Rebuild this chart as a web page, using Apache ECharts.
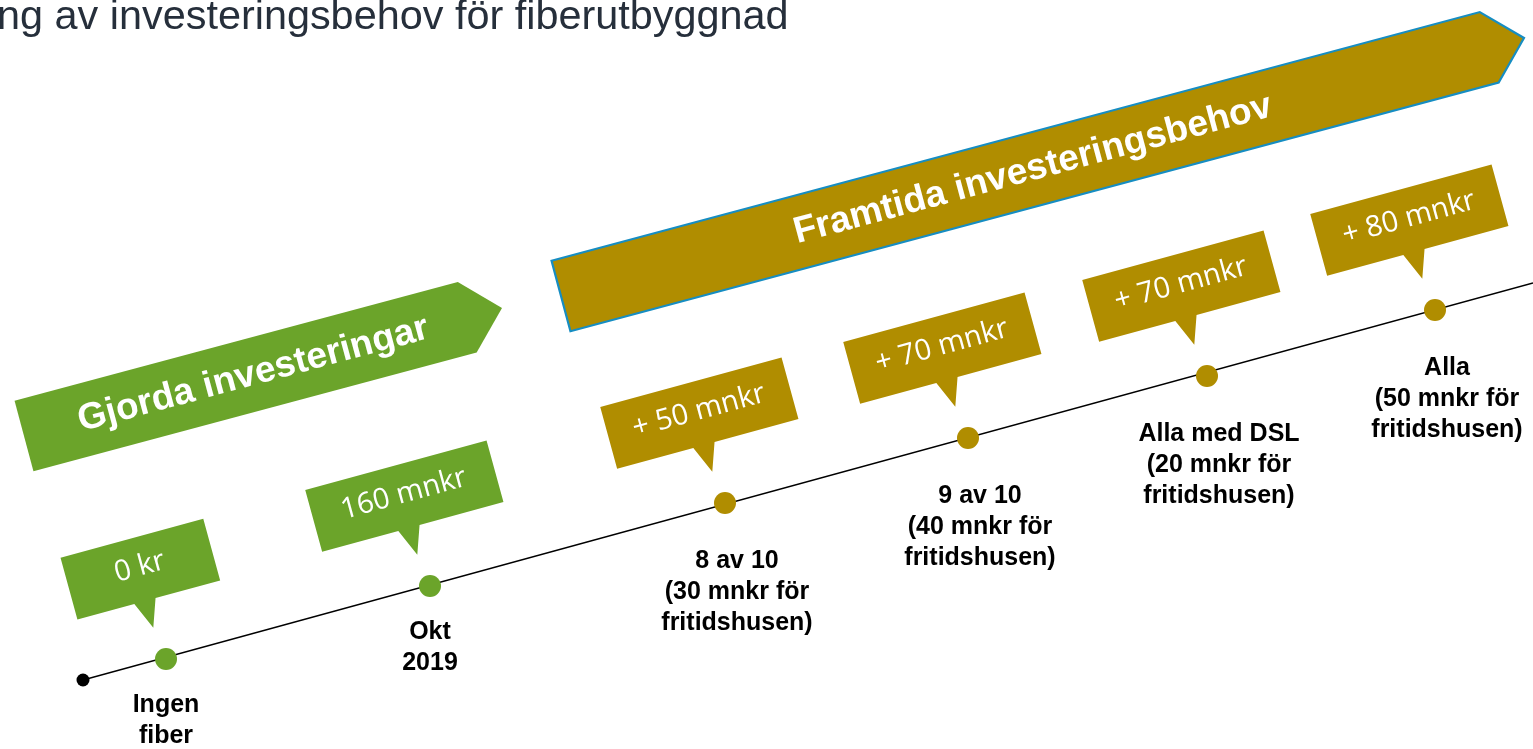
<!DOCTYPE html>
<html lang="sv">
<head>
    <meta charset="UTF-8">
    <title>Investeringsbehov för fiberutbyggnad</title>
    <style>
        html, body { margin: 0; padding: 0; background: #fff; overflow: hidden; }
        #main { width: 1533px; height: 749px; }
    </style>
</head>
<body>
<div id="main"></div>
<script src="https://cdn.jsdelivr.net/npm/echarts@6/dist/echarts.min.js"></script>
<script>
    // ---- data ----
    // milestones on the timeline (position along the drawing, axis units)
    const milestoneLabels = [
        'Ingen\nfiber',
        'Okt\n2019',
        '8 av 10\n(30 mnkr för\nfritidshusen)',
        '9 av 10\n(40 mnkr för\nfritidshusen)',
        'Alla med DSL\n(20 mnkr för\nfritidshusen)',
        'Alla\n(50 mnkr för\nfritidshusen)'
    ];
    const milestoneX = [166, 430, 725, 968, 1207, 1435];
    const milestoneY = [659, 586, 503, 438, 376, 310];
    const investments = ['0 kr', '160 mnkr', '+ 50 mnkr', '+ 70 mnkr', '+ 70 mnkr', '+ 80 mnkr'];
    const milestonePhase = [0, 0, 1, 1, 1, 1];

    // phase banners: from left end (mid height) to arrow tip
    const phaseNames = ['Gjorda investeringar', 'Framtida investeringsbehov'];
    const phaseStartX = [24, 561];
    const phaseStartY = [436, 296];
    const phaseEndX = [502, 1524];
    const phaseEndY = [308, 38];

    // the timeline itself
    const timelineX = [83, 1533];
    const timelineY = [680, 283];

    const titleText = 'ng av investeringsbehov för fiberutbyggnad';

    // ---- styles ----
    const phaseColors = ['#6BA42A', '#B08D00'];
    const phaseBorder = [null, '#168DC2'];
    const labelShift = [[0, 20], [12, 32]];

    const chart = echarts.init(document.getElementById('main'));

    // direction of the timeline in screen space
    function timelineDir(api) {
        const a = api.coord([timelineX[0], timelineY[0]]);
        const b = api.coord([timelineX[1], timelineY[1]]);
        const len = Math.hypot(b[0] - a[0], b[1] - a[1]);
        return [(b[0] - a[0]) / len, (b[1] - a[1]) / len];
    }

    function renderBanner(params, api) {
        const p0 = api.coord([api.value(0), api.value(1)]);
        const p1 = api.coord([api.value(2), api.value(3)]);
        const dx = p1[0] - p0[0], dy = p1[1] - p0[1];
        const len = Math.hypot(dx, dy);
        const u = [dx / len, dy / len];
        const v = [-u[1], u[0]];
        const h = 36.5, tip = 36;
        const pt = (a, b) => [p0[0] + a * u[0] + b * v[0], p0[1] + a * u[1] + b * v[1]];
        const i = params.dataIndex;
        const c = pt(len / 2 - 10, 0);
        return {
            type: 'group',
            children: [{
                type: 'polygon',
                shape: {points: [pt(0, -h), pt(len - tip, -h), pt(len, 0), pt(len - tip, h), pt(0, h)]},
                style: {
                    fill: phaseColors[i],
                    stroke: phaseBorder[i] || phaseColors[i],
                    lineWidth: phaseBorder[i] ? 2.2 : 0
                }
            }, {
                type: 'text',
                x: c[0],
                y: c[1],
                rotation: Math.atan2(-dy, dx),
                style: {
                    text: phaseNames[i],
                    fill: '#fff',
                    font: 'bold 37px "Liberation Sans", Arial, sans-serif',
                    align: 'center',
                    verticalAlign: 'middle'
                }
            }]
        };
    }

    function renderCallout(params, api) {
        const p = api.coord([api.value(0), api.value(1)]);
        const i = params.dataIndex;
        const u = timelineDir(api);
        const v = [-u[1], u[0]];
        const cx = p[0] - 1 * u[0] - 93.5 * v[0];
        const cy = p[1] - 1 * u[1] - 93.5 * v[1];
        const pt = (a, b) => [cx + a * u[0] + b * v[0], cy + a * u[1] + b * v[1]];
        const w = investments[i].length < 6 ? 148 : 188;
        const hh = 32;
        const color = phaseColors[milestonePhase[i]];
        return {
            type: 'group',
            children: [{
                type: 'polygon',
                shape: {
                    points: [pt(-w / 2, -hh), pt(w / 2, -hh), pt(w / 2, hh), pt(7, hh),
                        pt(-3, hh + 28), pt(-15, hh), pt(-w / 2, hh)]
                },
                style: {fill: color}
            }, {
                type: 'text',
                x: cx - 2 * v[0],
                y: cy - 2 * v[1],
                rotation: Math.atan2(-u[1], u[0]),
                style: {
                    text: investments[i],
                    fill: '#fff',
                    font: '29px "Open Sans", sans-serif',
                    align: 'center',
                    verticalAlign: 'middle'
                }
            }]
        };
    }

    const milestoneData = milestoneX.map((x, i) => {
        const ph = milestonePhase[i];
        return {
            value: [x, milestoneY[i]],
            itemStyle: {color: phaseColors[ph], opacity: 1},
            label: {offset: [labelShift[ph][0], 0], distance: labelShift[ph][1]}
        };
    });

    const option = {
        animation: false,
        title: {
            text: titleText,
            left: -3,
            top: -3,
            padding: 0,
            textStyle: {
                fontFamily: '"Liberation Sans", Arial, sans-serif',
                fontSize: 41.4,
                fontWeight: 'normal',
                color: '#262F3B'
            }
        },
        grid: {left: 0, right: 0, top: 0, bottom: 0},
        xAxis: {type: 'value', min: 0, max: 1533, show: false},
        yAxis: {type: 'value', min: 0, max: 749, inverse: true, show: false},
        series: [
            {
                type: 'custom',
                name: 'faser',
                renderItem: renderBanner,
                encode: {x: [0, 2], y: [1, 3]},
                data: phaseNames.map((n, i) => [phaseStartX[i], phaseStartY[i], phaseEndX[i], phaseEndY[i]]),
                z: 1
            },
            {
                type: 'line',
                name: 'tidslinje',
                data: timelineX.map((x, i) => [x, timelineY[i]]),
                symbol: 'none',
                lineStyle: {color: '#000', width: 1.3},
                z: 2
            },
            {
                type: 'scatter',
                name: 'start',
                data: [[timelineX[0], timelineY[0]]],
                symbolSize: 13,
                itemStyle: {color: '#000', opacity: 1},
                z: 3
            },
            {
                type: 'custom',
                name: 'investering',
                renderItem: renderCallout,
                encode: {x: 0, y: 1},
                data: milestoneX.map((x, i) => [x, milestoneY[i]]),
                z: 3
            },
            {
                type: 'scatter',
                name: 'milstolpar',
                data: milestoneData,
                symbolSize: 22,
                label: {
                    show: true,
                    position: 'bottom',
                    formatter: p => milestoneLabels[p.dataIndex],
                    fontFamily: '"Liberation Sans", Arial, sans-serif',
                    fontWeight: 'bold',
                    fontSize: 25,
                    lineHeight: 31,
                    color: '#000',
                    align: 'center'
                },
                z: 4
            }
        ]
    };

    chart.setOption(option);
</script>
</body>
</html>
